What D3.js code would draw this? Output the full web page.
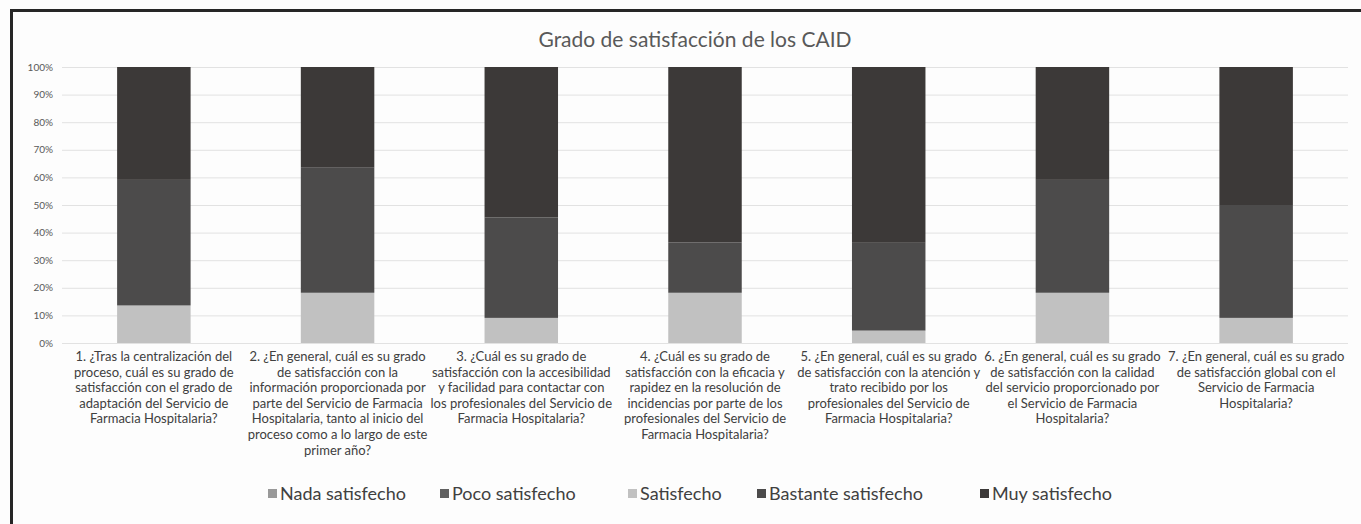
<!DOCTYPE html>
<html>
<head>
<meta charset="utf-8">
<script src="https://cdn.jsdelivr.net/npm/d3@7"></script>
<style>
  body { margin: 0; background: #fff; }
  svg { display: block; font-family: Lato, "Open Sans", sans-serif; }
</style>
</head>
<body>
<svg id="chart" width="1361" height="524"></svg>
<script>
// data (percent of answers)
var title = "Grado de satisfacción de los CAID";
var categories = [
  ["1. ¿Tras la centralización del", "proceso, cuál es su grado de", "satisfacción con el grado de", "adaptación del Servicio de", "Farmacia Hospitalaria?"],
  ["2. ¿En general, cuál es su grado", "de satisfacción con la", "información proporcionada por", "parte del Servicio de Farmacia", "Hospitalaria, tanto al inicio del", "proceso como a lo largo de este", "primer año?"],
  ["3. ¿Cuál es su grado de", "satisfacción con la accesibilidad", "y facilidad para contactar con", "los profesionales del Servicio de", "Farmacia Hospitalaria?"],
  ["4. ¿Cuál es su grado de", "satisfacción con la eficacia y", "rapidez en la resolución de", "incidencias por parte de los", "profesionales del Servicio de", "Farmacia Hospitalaria?"],
  ["5. ¿En general, cuál es su grado", "de satisfacción con la atención y", "trato recibido por los", "profesionales del Servicio de", "Farmacia Hospitalaria?"],
  ["6. ¿En general, cuál es su grado", "de satisfacción con la calidad", "del servicio proporcionado por", "el Servicio de Farmacia", "Hospitalaria?"],
  ["7. ¿En general, cuál es su grado", "de satisfacción global con el", "Servicio de Farmacia", "Hospitalaria?"]
];
var seriesNames = ["Nada satisfecho", "Poco satisfecho", "Satisfecho", "Bastante satisfecho", "Muy satisfecho"];
var nada = [0, 0, 0, 0, 0, 0, 0];
var poco = [0, 0, 0, 0, 0, 0, 0];
var satisfecho = [13.6, 18.2, 9.1, 18.2, 4.5, 18.2, 9.1];
var bastante = [45.5, 45.5, 36.4, 18.2, 31.8, 40.9, 40.9];
var muy = [40.9, 36.3, 54.5, 63.6, 63.7, 40.9, 50.0];
var yTicks = [0, 10, 20, 30, 40, 50, 60, 70, 80, 90, 100];
var colors = ["#999999", "#606060", "#c1c1c1", "#4c4b4b", "#3c3938"];

var allSeries = [nada, poco, satisfecho, bastante, muy];
var rows = categories.map(function (c, i) {
  var r = { idx: i };
  seriesNames.forEach(function (s, k) { r[s] = allSeries[k][i]; });
  return r;
});

var svg = d3.select("#chart");

// background and frame (top + left edges visible)
svg.append("rect").attr("width", 1361).attr("height", 524).attr("fill", "#fdfdfd");
svg.append("path")
  .attr("d", "M11.5,524 V10.5 H1361")
  .attr("fill", "none").attr("stroke", "#262626").attr("stroke-width", 3);

var x = d3.scaleBand().domain(d3.range(categories.length)).range([62, 1348])
  .paddingInner(0.6).paddingOuter(0.3);
var y = d3.scaleLinear().domain([0, 100]).range([343, 67]);

// gridlines
svg.append("g").selectAll("line").data(yTicks).enter().append("line")
  .attr("x1", 62).attr("x2", 1348)
  .attr("y1", function (d) { return y(d) + 0.5; })
  .attr("y2", function (d) { return y(d) + 0.5; })
  .attr("stroke", "#e2e2e2").attr("stroke-width", 1);

// y axis labels
svg.append("g").selectAll("text").data(yTicks).enter().append("text")
  .attr("x", 53).attr("y", function (d) { return y(d) + 3.5; })
  .attr("text-anchor", "end")
  .style("font-size", "10px").style("fill", "#595959")
  .text(function (d) { return d + "%"; });

// stacked bars
var stacked = d3.stack().keys(seriesNames)(rows);
svg.append("g").selectAll("g").data(stacked).enter().append("g")
  .attr("fill", function (d, i) { return colors[i]; })
  .selectAll("rect").data(function (d) { return d; }).enter().append("rect")
    .attr("x", function (d) { return x(d.data.idx); })
    .attr("width", x.bandwidth())
    .attr("y", function (d) { return y(d[1]); })
    .attr("height", function (d) { return Math.max(0, y(d[0]) - y(d[1])); });

// category labels
var lab = svg.append("g").selectAll("text").data(categories).enter().append("text")
  .attr("text-anchor", "middle")
  .style("font-size", "13px").style("fill", "#404040");
lab.selectAll("tspan").data(function (d, i) { return d.map(function (t) { return { t: t, i: i }; }); })
  .enter().append("tspan")
  .attr("x", function (d) { return x(d.i) + x.bandwidth() / 2; })
  .attr("y", function (d, j) { return 361 + j * 15.6; })
  .text(function (d) { return d.t; });

// title
svg.append("text").attr("x", 695).attr("y", 47).attr("text-anchor", "middle")
  .style("font-size", "21px").style("fill", "#595959").text(title);

// legend
var legX = [268, 440, 628, 757, 980];
var leg = svg.append("g").selectAll("g").data(seriesNames).enter().append("g")
  .attr("transform", function (d, i) { return "translate(" + legX[i] + ",494)"; });
leg.append("rect").attr("x", 0).attr("y", -5).attr("width", 9).attr("height", 9)
  .attr("fill", function (d, i) { return colors[i]; });
leg.append("text").attr("x", 12).attr("y", 6)
  .style("font-size", "18px").style("fill", "#404040")
  .text(function (d) { return d; });
</script>
</body>
</html>
